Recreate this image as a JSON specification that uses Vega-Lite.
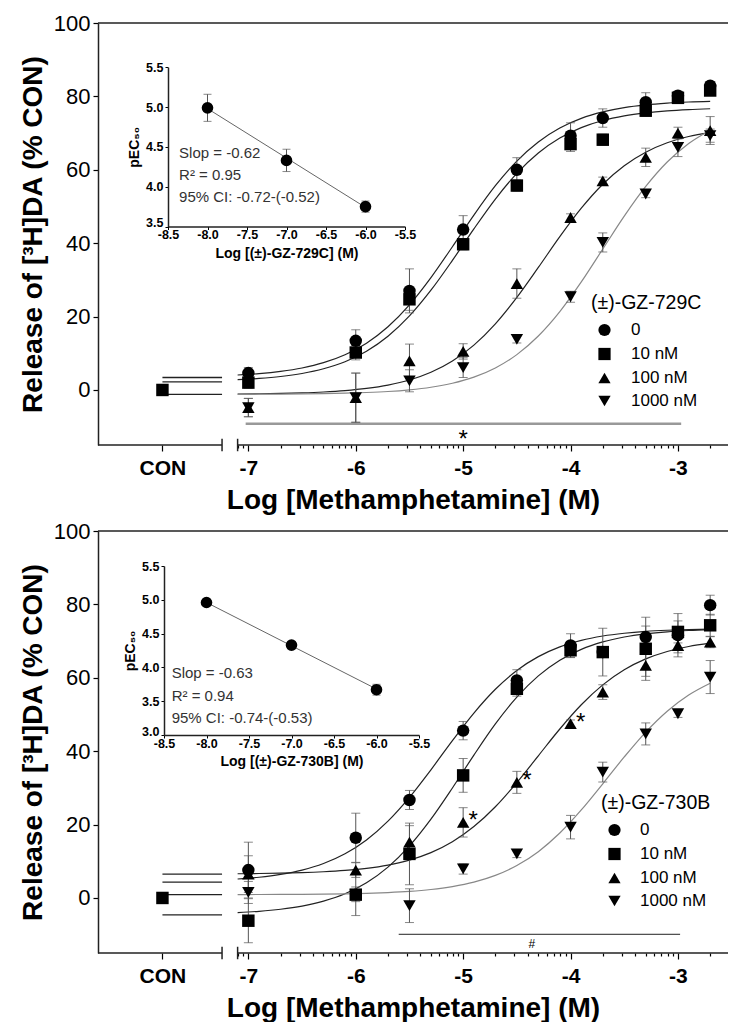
{
  "$schema": "https://vega.github.io/schema/vega-lite/v6.json",
  "background": "white",
  "padding": {"left": 19, "top": 12, "right": 0, "bottom": 0},
  "bounds": "flush",
  "spacing": 86,
  "datasets": {
    "axh": [{"x": -8.4, "xe": -7.245, "y": -15}, {"x": -7.1, "xe": -2.534, "y": -15}, {"x": -8.4, "xe": -2.534, "y": 100}],
    "brk": [{"x": -7.245, "y": -13.3, "ye": -16.7}, {"x": -7.1, "y": -13.3, "ye": -16.7}],
    "con1": [{"x": -7.8, "xe": -7.245, "y": 3.4}, {"x": -7.8, "xe": -7.245, "y": 2.2}, {"x": -7.8, "xe": -7.245, "y": -1.2}],
    "con2": [{"x": -7.8, "xe": -7.245, "y": 6.5}, {"x": -7.8, "xe": -7.245, "y": 4.3}, {"x": -7.8, "xe": -7.245, "y": 0.9}, {"x": -7.8, "xe": -7.245, "y": -4.6}],
    "sig1": [{"x": -7.025, "xe": -2.97, "y": -9.2}],
    "sig2": [{"x": -5.6, "xe": -2.98, "y": -9.9}],
    "t1": [{"x": -5, "y": -13.6, "t": "*"}],
    "t2": [{"x": -4.36, "y": -12.6, "t": "#"}],
    "ast2": [{"x": -5, "y": 20.6, "t": "*"}, {"x": -4.5, "y": 31.5, "t": "*"}, {"x": -4, "y": 47.5, "t": "*"}],
    "p1": [
      {"s": "0", "x": -7, "y": 4.6, "e": 1.5}, {"s": "0", "x": -6, "y": 13.4, "e": 3}, {"s": "0", "x": -5.5, "y": 27.0, "e": 6}, {"s": "0", "x": -5, "y": 43.7, "e": 3.8}, {"s": "0", "x": -4.5, "y": 60.0, "e": 3.3}, {"s": "0", "x": -4, "y": 69.3, "e": 3.5}, {"s": "0", "x": -3.7, "y": 74.1, "e": 2.5}, {"s": "0", "x": -3.3, "y": 78.4, "e": 2.6}, {"s": "0", "x": -3, "y": 80.2, "e": 1.2}, {"s": "0", "x": -2.7, "y": 82.9, "e": 1},
      {"s": "10 nM", "x": -7.8, "y": 0, "e": 0},
      {"s": "10 nM", "x": -7, "y": 2.0, "e": 1.5}, {"s": "10 nM", "x": -6, "y": 10.2, "e": 2}, {"s": "10 nM", "x": -5.5, "y": 24.7, "e": 3}, {"s": "10 nM", "x": -5, "y": 39.7, "e": 1.5}, {"s": "10 nM", "x": -4.5, "y": 55.7, "e": 1.5}, {"s": "10 nM", "x": -4, "y": 67.0, "e": 2}, {"s": "10 nM", "x": -3.7, "y": 68.2, "e": 1.5}, {"s": "10 nM", "x": -3.3, "y": 76.1, "e": 1.5}, {"s": "10 nM", "x": -3, "y": 79.6, "e": 1.2}, {"s": "10 nM", "x": -2.7, "y": 81.6, "e": 1},
      {"s": "100 nM", "x": -7, "y": -4.8, "e": 2.5}, {"s": "100 nM", "x": -6, "y": -2.1, "e": 6.7}, {"s": "100 nM", "x": -5.5, "y": 7.9, "e": 4.6}, {"s": "100 nM", "x": -5, "y": 10.5, "e": 2.1}, {"s": "100 nM", "x": -4.5, "y": 29.0, "e": 4}, {"s": "100 nM", "x": -4, "y": 47.0, "e": 1}, {"s": "100 nM", "x": -3.7, "y": 57.0, "e": 1}, {"s": "100 nM", "x": -3.3, "y": 63.4, "e": 2.5}, {"s": "100 nM", "x": -3, "y": 70.0, "e": 1.6}, {"s": "100 nM", "x": -2.7, "y": 70.7, "e": 3.8},
      {"s": "1000 nM", "x": -7, "y": -4.8, "e": 2.5}, {"s": "1000 nM", "x": -6, "y": -2.1, "e": 6.7}, {"s": "1000 nM", "x": -5.5, "y": 2.5, "e": 3}, {"s": "1000 nM", "x": -5, "y": 6.1, "e": 2.7}, {"s": "1000 nM", "x": -4.5, "y": 13.8, "e": 1}, {"s": "1000 nM", "x": -4, "y": 25.4, "e": 1.5}, {"s": "1000 nM", "x": -3.7, "y": 40.2, "e": 2.6}, {"s": "1000 nM", "x": -3.3, "y": 53.4, "e": 1}, {"s": "1000 nM", "x": -3, "y": 66.1, "e": 2.5}, {"s": "1000 nM", "x": -2.7, "y": 69.3, "e": 1.8}
    ],
    "p2": [
      {"s": "0", "x": -7, "y": 7.6, "e": 7.6}, {"s": "0", "x": -6, "y": 16.4, "e": 6.7}, {"s": "0", "x": -5.5, "y": 26.7, "e": 2.6}, {"s": "0", "x": -5, "y": 45.6, "e": 2.5}, {"s": "0", "x": -4.5, "y": 59.3, "e": 2.9}, {"s": "0", "x": -4, "y": 68.8, "e": 3.2}, {"s": "0", "x": -3.7, "y": 67.0, "e": 1}, {"s": "0", "x": -3.3, "y": 71.1, "e": 3}, {"s": "0", "x": -3, "y": 71.6, "e": 5.9}, {"s": "0", "x": -2.7, "y": 79.8, "e": 2.7},
      {"s": "10 nM", "x": -7.8, "y": 0, "e": 0},
      {"s": "10 nM", "x": -7, "y": -6.2, "e": 6}, {"s": "10 nM", "x": -6, "y": 0.9, "e": 5.7}, {"s": "10 nM", "x": -5.5, "y": 12.0, "e": 8.4}, {"s": "10 nM", "x": -5, "y": 33.4, "e": 4.6}, {"s": "10 nM", "x": -4.5, "y": 57.0, "e": 2}, {"s": "10 nM", "x": -4, "y": 67.5, "e": 2}, {"s": "10 nM", "x": -3.7, "y": 67.0, "e": 6.5}, {"s": "10 nM", "x": -3.3, "y": 67.9, "e": 8.6}, {"s": "10 nM", "x": -3, "y": 72.5, "e": 3}, {"s": "10 nM", "x": -2.7, "y": 74.3, "e": 3},
      {"s": "100 nM", "x": -7, "y": 6.5, "e": 5}, {"s": "100 nM", "x": -6, "y": 7.6, "e": 2}, {"s": "100 nM", "x": -5.5, "y": 15.2, "e": 4.5}, {"s": "100 nM", "x": -5, "y": 20.6, "e": 4}, {"s": "100 nM", "x": -4.5, "y": 31.5, "e": 3}, {"s": "100 nM", "x": -4, "y": 47.5, "e": 1}, {"s": "100 nM", "x": -3.7, "y": 56.1, "e": 2}, {"s": "100 nM", "x": -3.3, "y": 63.4, "e": 3}, {"s": "100 nM", "x": -3, "y": 68.8, "e": 2}, {"s": "100 nM", "x": -2.7, "y": 69.7, "e": 1.5},
      {"s": "1000 nM", "x": -7, "y": 1.5, "e": 3}, {"s": "1000 nM", "x": -6, "y": 1.0, "e": 2}, {"s": "1000 nM", "x": -5.5, "y": -2.1, "e": 4.6}, {"s": "1000 nM", "x": -5, "y": 7.9, "e": 1.4}, {"s": "1000 nM", "x": -4.5, "y": 12.0, "e": 1}, {"s": "1000 nM", "x": -4, "y": 19.3, "e": 3.2}, {"s": "1000 nM", "x": -3.7, "y": 34.3, "e": 2.7}, {"s": "1000 nM", "x": -3.3, "y": 44.7, "e": 3}, {"s": "1000 nM", "x": -3, "y": 50.2, "e": 1}, {"s": "1000 nM", "x": -2.7, "y": 60.2, "e": 4.5}
    ],
    "c1": [
      {"s":"0","x":-7.1,"y":4.07},{"s":"0","x":-6.9,"y":4.45},{"s":"0","x":-6.7,"y":5.06},{"s":"0","x":-6.5,"y":5.99},{"s":"0","x":-6.3,"y":7.43},{"s":"0","x":-6.1,"y":9.59},{"s":"0","x":-5.9,"y":12.76},{"s":"0","x":-5.7,"y":17.23},{"s":"0","x":-5.5,"y":23.2},{"s":"0","x":-5.3,"y":30.62},{"s":"0","x":-5.1,"y":39.03},{"s":"0","x":-4.9,"y":47.66},{"s":"0","x":-4.7,"y":55.65},{"s":"0","x":-4.5,"y":62.38},{"s":"0","x":-4.3,"y":67.58},{"s":"0","x":-4.1,"y":71.37},{"s":"0","x":-3.9,"y":74.0},{"s":"0","x":-3.7,"y":75.76},{"s":"0","x":-3.5,"y":76.93},{"s":"0","x":-3.3,"y":77.68},{"s":"0","x":-3.1,"y":78.16},{"s":"0","x":-2.9,"y":78.47},{"s":"0","x":-2.7,"y":78.66},
      {"s":"10 nM","x":-7.1,"y":2.79},{"s":"10 nM","x":-6.9,"y":3.13},{"s":"10 nM","x":-6.7,"y":3.66},{"s":"10 nM","x":-6.5,"y":4.49},{"s":"10 nM","x":-6.3,"y":5.77},{"s":"10 nM","x":-6.1,"y":7.7},{"s":"10 nM","x":-5.9,"y":10.56},{"s":"10 nM","x":-5.7,"y":14.64},{"s":"10 nM","x":-5.5,"y":20.17},{"s":"10 nM","x":-5.3,"y":27.18},{"s":"10 nM","x":-5.1,"y":35.31},{"s":"10 nM","x":-4.9,"y":43.89},{"s":"10 nM","x":-4.7,"y":52.02},{"s":"10 nM","x":-4.5,"y":59.03},{"s":"10 nM","x":-4.3,"y":64.56},{"s":"10 nM","x":-4.1,"y":68.64},{"s":"10 nM","x":-3.9,"y":71.49},{"s":"10 nM","x":-3.7,"y":73.43},{"s":"10 nM","x":-3.5,"y":74.71},{"s":"10 nM","x":-3.3,"y":75.53},{"s":"10 nM","x":-3.1,"y":76.07},{"s":"10 nM","x":-2.9,"y":76.41},{"s":"10 nM","x":-2.7,"y":76.63},
      {"s":"100 nM","x":-7.1,"y":-1.1},{"s":"100 nM","x":-6.9,"y":-1.04},{"s":"100 nM","x":-6.7,"y":-0.94},{"s":"100 nM","x":-6.5,"y":-0.79},{"s":"100 nM","x":-6.3,"y":-0.55},{"s":"100 nM","x":-6.1,"y":-0.18},{"s":"100 nM","x":-5.9,"y":0.41},{"s":"100 nM","x":-5.7,"y":1.32},{"s":"100 nM","x":-5.5,"y":2.71},{"s":"100 nM","x":-5.3,"y":4.81},{"s":"100 nM","x":-5.1,"y":7.89},{"s":"100 nM","x":-4.9,"y":12.22},{"s":"100 nM","x":-4.7,"y":18.02},{"s":"100 nM","x":-4.5,"y":25.22},{"s":"100 nM","x":-4.3,"y":33.39},{"s":"100 nM","x":-4.1,"y":41.78},{"s":"100 nM","x":-3.9,"y":49.53},{"s":"100 nM","x":-3.7,"y":56.06},{"s":"100 nM","x":-3.5,"y":61.12},{"s":"100 nM","x":-3.3,"y":64.79},{"s":"100 nM","x":-3.1,"y":67.35},{"s":"100 nM","x":-2.9,"y":69.06},{"s":"100 nM","x":-2.7,"y":70.19},
      {"s":"1000 nM","x":-7.1,"y":-1.17},{"s":"1000 nM","x":-6.9,"y":-1.15},{"s":"1000 nM","x":-6.7,"y":-1.12},{"s":"1000 nM","x":-6.5,"y":-1.07},{"s":"1000 nM","x":-6.3,"y":-1.0},{"s":"1000 nM","x":-6.1,"y":-0.89},{"s":"1000 nM","x":-5.9,"y":-0.7},{"s":"1000 nM","x":-5.7,"y":-0.42},{"s":"1000 nM","x":-5.5,"y":0.04},{"s":"1000 nM","x":-5.3,"y":0.74},{"s":"1000 nM","x":-5.1,"y":1.83},{"s":"1000 nM","x":-4.9,"y":3.5},{"s":"1000 nM","x":-4.7,"y":6.0},{"s":"1000 nM","x":-4.5,"y":9.63},{"s":"1000 nM","x":-4.3,"y":14.7},{"s":"1000 nM","x":-4.1,"y":21.35},{"s":"1000 nM","x":-3.9,"y":29.44},{"s":"1000 nM","x":-3.7,"y":38.4},{"s":"1000 nM","x":-3.5,"y":47.36},{"s":"1000 nM","x":-3.3,"y":55.45},{"s":"1000 nM","x":-3.1,"y":62.11},{"s":"1000 nM","x":-2.9,"y":67.17},{"s":"1000 nM","x":-2.7,"y":70.8}
    ],
    "c2": [
      {"s":"0","x":-7.1,"y":5.16},{"s":"0","x":-6.9,"y":5.65},{"s":"0","x":-6.7,"y":6.42},{"s":"0","x":-6.5,"y":7.6},{"s":"0","x":-6.3,"y":9.39},{"s":"0","x":-6.1,"y":12.04},{"s":"0","x":-5.9,"y":15.81},{"s":"0","x":-5.7,"y":20.93},{"s":"0","x":-5.5,"y":27.41},{"s":"0","x":-5.3,"y":34.93},{"s":"0","x":-5.1,"y":42.87},{"s":"0","x":-4.9,"y":50.39},{"s":"0","x":-4.7,"y":56.87},{"s":"0","x":-4.5,"y":61.99},{"s":"0","x":-4.3,"y":65.76},{"s":"0","x":-4.1,"y":68.41},{"s":"0","x":-3.9,"y":70.2},{"s":"0","x":-3.7,"y":71.38},{"s":"0","x":-3.5,"y":72.14},{"s":"0","x":-3.3,"y":72.64},{"s":"0","x":-3.1,"y":72.95},{"s":"0","x":-2.9,"y":73.15},{"s":"0","x":-2.7,"y":73.28},
      {"s":"10 nM","x":-7.1,"y":-3.98},{"s":"10 nM","x":-6.9,"y":-3.63},{"s":"10 nM","x":-6.7,"y":-3.07},{"s":"10 nM","x":-6.5,"y":-2.21},{"s":"10 nM","x":-6.3,"y":-0.87},{"s":"10 nM","x":-6.1,"y":1.15},{"s":"10 nM","x":-5.9,"y":4.13},{"s":"10 nM","x":-5.7,"y":8.39},{"s":"10 nM","x":-5.5,"y":14.17},{"s":"10 nM","x":-5.3,"y":21.48},{"s":"10 nM","x":-5.1,"y":29.97},{"s":"10 nM","x":-4.9,"y":38.93},{"s":"10 nM","x":-4.7,"y":47.42},{"s":"10 nM","x":-4.5,"y":54.73},{"s":"10 nM","x":-4.3,"y":60.51},{"s":"10 nM","x":-4.1,"y":64.77},{"s":"10 nM","x":-3.9,"y":67.75},{"s":"10 nM","x":-3.7,"y":69.77},{"s":"10 nM","x":-3.5,"y":71.11},{"s":"10 nM","x":-3.3,"y":71.97},{"s":"10 nM","x":-3.1,"y":72.53},{"s":"10 nM","x":-2.9,"y":72.88},{"s":"10 nM","x":-2.7,"y":73.11},
      {"s":"100 nM","x":-7.1,"y":6.6},{"s":"100 nM","x":-6.9,"y":6.66},{"s":"100 nM","x":-6.7,"y":6.76},{"s":"100 nM","x":-6.5,"y":6.9},{"s":"100 nM","x":-6.3,"y":7.14},{"s":"100 nM","x":-6.1,"y":7.51},{"s":"100 nM","x":-5.9,"y":8.08},{"s":"100 nM","x":-5.7,"y":8.97},{"s":"100 nM","x":-5.5,"y":10.33},{"s":"100 nM","x":-5.3,"y":12.36},{"s":"100 nM","x":-5.1,"y":15.32},{"s":"100 nM","x":-4.9,"y":19.45},{"s":"100 nM","x":-4.7,"y":24.86},{"s":"100 nM","x":-4.5,"y":31.46},{"s":"100 nM","x":-4.3,"y":38.75},{"s":"100 nM","x":-4.1,"y":46.04},{"s":"100 nM","x":-3.9,"y":52.64},{"s":"100 nM","x":-3.7,"y":58.06},{"s":"100 nM","x":-3.5,"y":62.18},{"s":"100 nM","x":-3.3,"y":65.14},{"s":"100 nM","x":-3.1,"y":67.17},{"s":"100 nM","x":-2.9,"y":68.53},{"s":"100 nM","x":-2.7,"y":69.42},
      {"s":"1000 nM","x":-7.1,"y":0.92},{"s":"1000 nM","x":-6.9,"y":0.94},{"s":"1000 nM","x":-6.7,"y":0.96},{"s":"1000 nM","x":-6.5,"y":0.99},{"s":"1000 nM","x":-6.3,"y":1.04},{"s":"1000 nM","x":-6.1,"y":1.13},{"s":"1000 nM","x":-5.9,"y":1.26},{"s":"1000 nM","x":-5.7,"y":1.47},{"s":"1000 nM","x":-5.5,"y":1.79},{"s":"1000 nM","x":-5.3,"y":2.3},{"s":"1000 nM","x":-5.1,"y":3.1},{"s":"1000 nM","x":-4.9,"y":4.31},{"s":"1000 nM","x":-4.7,"y":6.15},{"s":"1000 nM","x":-4.5,"y":8.84},{"s":"1000 nM","x":-4.3,"y":12.62},{"s":"1000 nM","x":-4.1,"y":17.69},{"s":"1000 nM","x":-3.9,"y":23.98},{"s":"1000 nM","x":-3.7,"y":31.11},{"s":"1000 nM","x":-3.5,"y":38.43},{"s":"1000 nM","x":-3.3,"y":45.21},{"s":"1000 nM","x":-3.1,"y":50.9},{"s":"1000 nM","x":-2.9,"y":55.32},{"s":"1000 nM","x":-2.7,"y":58.53}
    ],
    "ip1": [{"x": -8, "y": 4.99, "e": 0.17}, {"x": -7, "y": 4.33, "e": 0.14}, {"x": -6, "y": 3.75, "e": 0.07}],
    "il1": [{"x": -8, "y": 4.98}, {"x": -6, "y": 3.74}],
    "it1": [{"x": -8.36, "y": 4.425, "t": "Slop = -0.62"}, {"x": -8.36, "y": 4.15, "t": "R² = 0.95"}, {"x": -8.36, "y": 3.875, "t": "95% CI: -0.72-(-0.52)"}],
    "ip2": [{"x": -8, "y": 4.96, "e": 0.03}, {"x": -7, "y": 4.33, "e": 0.03}, {"x": -6, "y": 3.67, "e": 0.08}],
    "il2": [{"x": -8, "y": 4.96}, {"x": -6, "y": 3.68}],
    "it2": [{"x": -8.41, "y": 3.91, "t": "Slop = -0.63"}, {"x": -8.41, "y": 3.57, "t": "R² = 0.94"}, {"x": -8.41, "y": 3.25, "t": "95% CI: -0.74-(-0.53)"}]
  },
  "vconcat": [
    {
      "width": 630, "height": 422,
      "resolve": {"scale": {"x": "independent", "y": "independent"}, "axis": {"x": "independent", "y": "independent"}},
      "layer": [
        {
          "encoding": {
            "x": {"field": "x", "type": "quantitative", "scale": {"domain": [-8.4, -2.534], "nice": false, "zero": false},
              "axis": {"values": [-7.8,-7.097,-7.046,-7,-6.699,-6.523,-6.398,-6.301,-6.222,-6.155,-6.097,-6.046,-6,-5.699,-5.523,-5.398,-5.301,-5.222,-5.155,-5.097,-5.046,-5,-4.699,-4.523,-4.398,-4.301,-4.222,-4.155,-4.097,-4.046,-4,-3.699,-3.523,-3.398,-3.301,-3.222,-3.155,-3.097,-3.046,-3,-2.699],
                "domain": false, "tickWidth": 1.2,
                "tickSize": {"condition": {"test": "indexof([-7.8,-7,-6,-5,-4,-3], datum.value) >= 0", "value": 6}, "value": 3},
                "labelExpr": "datum.value == -7.8 ? 'CON' : (indexof([-7,-6,-5,-4,-3], datum.value) >= 0 ? '-' + abs(datum.value) : '')",
                "labelFontSize": 21, "labelFontWeight": "bold", "labelPadding": 6, "labelOverlap": false, "labelFlush": false,
                "title": "Log [Methamphetamine] (M)", "titleFontSize": 28, "titleFontWeight": "bold", "titlePadding": 8}},
            "y": {"field": "y", "type": "quantitative", "scale": {"domain": [-15, 100], "nice": false, "zero": false},
              "axis": {"values": [0, 20, 40, 60, 80, 100], "tickSize": 5, "tickWidth": 1.2, "domainWidth": 1.5, "labelFontSize": 22, "labelPadding": 3,
                "title": "Release of [³H]DA (% CON)", "titleFontSize": 28, "titleFontWeight": "bold", "titlePadding": 6}}
          },
          "layer": [
            {"data": {"name": "axh"}, "mark": {"type": "rule", "color": "#222", "strokeWidth": 1.5}, "encoding": {"x2": {"field": "xe"}}},
            {"data": {"name": "brk"}, "mark": {"type": "rule", "color": "#222", "strokeWidth": 1.5}, "encoding": {"y2": {"field": "ye"}}},
            {"data": {"name": "con1"}, "mark": {"type": "rule", "color": "#222", "strokeWidth": 1.3}, "encoding": {"x2": {"field": "xe"}}},
            {"data": {"name": "sig1"}, "mark": {"type": "rule", "color": "#999", "strokeWidth": 2.5}, "encoding": {"x2": {"field": "xe"}}},
            {"data": {"name": "c1"}, "mark": {"type": "line", "interpolate": "monotone", "strokeWidth": 1.2},
              "encoding": {"detail": {"field": "s"}, "color": {"condition": {"test": "datum.s == '1000 nM'", "value": "#888"}, "value": "#222"}}},
            {"data": {"name": "p1"}, "mark": {"type": "errorbar", "ticks": {"size": 9, "color": "#555"}, "color": "#555"}, "encoding": {"yError": {"field": "e"}}},
            {"data": {"name": "p1"}, "mark": {"type": "point", "filled": true, "size": 155, "opacity": 1, "color": "black"},
              "encoding": {"shape": {"field": "s", "type": "nominal", "scale": {"domain": ["0", "10 nM", "100 nM", "1000 nM"], "range": ["circle", "square", "triangle-up", "triangle-down"]},
                "legend": {"title": "(±)-GZ-729C", "orient": "none", "legendX": 493, "legendY": 271, "padding": 0, "titleFontSize": 19.5, "titleFontWeight": "normal", "titlePadding": 8, "titleAnchor": "start", "titleAlign": "left",
                  "labelFontSize": 17, "symbolSize": 150, "symbolFillColor": "black", "symbolStrokeColor": "black", "symbolOpacity": 1, "symbolOffset": 5, "labelOffset": 18, "rowPadding": 5,
                  "labelExpr": "datum.label == '0' ? '  0' : datum.label"}}}},
            {"data": {"name": "t1"}, "mark": {"type": "text", "fontSize": 24, "baseline": "middle", "color": "black"}, "encoding": {"text": {"field": "t"}}}
          ]
        },
        {
          "encoding": {
            "x": {"field": "x", "type": "quantitative", "scale": {"domain": [-8.5, -5.5], "range": [70, 307], "nice": false, "zero": false},
              "axis": {"orient": "bottom", "offset": -218.5, "values": [-8.5, -8, -7.5, -7, -6.5, -6, -5.5], "labelExpr": "'-' + format(abs(datum.value), '.1f')",
                "domainWidth": 1.5, "tickSize": 3, "labelFontSize": 12.5, "labelFontWeight": "bold", "labelPadding": -1, "labelFlush": false, "labelOverlap": false,
                "title": "Log [(±)-GZ-729C] (M)", "titleFontSize": 14, "titleFontWeight": "bold", "titlePadding": 5}},
            "y": {"field": "y", "type": "quantitative", "scale": {"domain": [3.5, 5.5], "range": [203.5, 44.2], "nice": false, "zero": false},
              "axis": {"orient": "left", "offset": -70, "values": [3.5, 4, 4.5, 5, 5.5], "format": ".1f",
                "domainWidth": 1.5, "tickSize": 3, "labelFontSize": 12.5, "labelFontWeight": "bold", "labelPadding": 2, "labelFlush": false, "labelOverlap": false,
                "labelOffset": {"condition": {"test": "datum.value == 3.5", "value": -4}, "value": 0},
                "title": "pEC₅₀", "titleFontSize": 14, "titleFontWeight": "bold", "titlePadding": 4}}
          },
          "layer": [
            {"data": {"name": "il1"}, "mark": {"type": "line", "color": "#666", "strokeWidth": 1}},
            {"data": {"name": "ip1"}, "mark": {"type": "errorbar", "ticks": {"size": 8, "color": "#555"}, "color": "#555"}, "encoding": {"yError": {"field": "e"}}},
            {"data": {"name": "ip1"}, "mark": {"type": "point", "filled": true, "size": 135, "opacity": 1, "color": "black", "shape": "circle"}},
            {"data": {"name": "it1"}, "mark": {"type": "text", "align": "left", "baseline": "middle", "fontSize": 15, "color": "#333"}, "encoding": {"text": {"field": "t"}}}
          ]
        }
      ]
    },
    {
      "width": 630, "height": 422,
      "resolve": {"scale": {"x": "independent", "y": "independent"}, "axis": {"x": "independent", "y": "independent"}},
      "layer": [
        {
          "encoding": {
            "x": {"field": "x", "type": "quantitative", "scale": {"domain": [-8.4, -2.534], "nice": false, "zero": false},
              "axis": {"values": [-7.8,-7.097,-7.046,-7,-6.699,-6.523,-6.398,-6.301,-6.222,-6.155,-6.097,-6.046,-6,-5.699,-5.523,-5.398,-5.301,-5.222,-5.155,-5.097,-5.046,-5,-4.699,-4.523,-4.398,-4.301,-4.222,-4.155,-4.097,-4.046,-4,-3.699,-3.523,-3.398,-3.301,-3.222,-3.155,-3.097,-3.046,-3,-2.699],
                "domain": false, "tickWidth": 1.2,
                "tickSize": {"condition": {"test": "indexof([-7.8,-7,-6,-5,-4,-3], datum.value) >= 0", "value": 6}, "value": 3},
                "labelExpr": "datum.value == -7.8 ? 'CON' : (indexof([-7,-6,-5,-4,-3], datum.value) >= 0 ? '-' + abs(datum.value) : '')",
                "labelFontSize": 21, "labelFontWeight": "bold", "labelPadding": 6, "labelOverlap": false, "labelFlush": false,
                "title": "Log [Methamphetamine] (M)", "titleFontSize": 28, "titleFontWeight": "bold", "titlePadding": 8}},
            "y": {"field": "y", "type": "quantitative", "scale": {"domain": [-15, 100], "nice": false, "zero": false},
              "axis": {"values": [0, 20, 40, 60, 80, 100], "tickSize": 5, "tickWidth": 1.2, "domainWidth": 1.5, "labelFontSize": 22, "labelPadding": 3,
                "title": "Release of [³H]DA (% CON)", "titleFontSize": 28, "titleFontWeight": "bold", "titlePadding": 6}}
          },
          "layer": [
            {"data": {"name": "axh"}, "mark": {"type": "rule", "color": "#222", "strokeWidth": 1.5}, "encoding": {"x2": {"field": "xe"}}},
            {"data": {"name": "brk"}, "mark": {"type": "rule", "color": "#222", "strokeWidth": 1.5}, "encoding": {"y2": {"field": "ye"}}},
            {"data": {"name": "con2"}, "mark": {"type": "rule", "color": "#222", "strokeWidth": 1.3}, "encoding": {"x2": {"field": "xe"}}},
            {"data": {"name": "sig2"}, "mark": {"type": "rule", "color": "#222", "strokeWidth": 1}, "encoding": {"x2": {"field": "xe"}}},
            {"data": {"name": "c2"}, "mark": {"type": "line", "interpolate": "monotone", "strokeWidth": 1.2},
              "encoding": {"detail": {"field": "s"}, "color": {"condition": {"test": "datum.s == '1000 nM'", "value": "#888"}, "value": "#222"}}},
            {"data": {"name": "p2"}, "mark": {"type": "errorbar", "ticks": {"size": 9, "color": "#555"}, "color": "#555"}, "encoding": {"yError": {"field": "e"}}},
            {"data": {"name": "p2"}, "mark": {"type": "point", "filled": true, "size": 155, "opacity": 1, "color": "black"},
              "encoding": {"shape": {"field": "s", "type": "nominal", "scale": {"domain": ["0", "10 nM", "100 nM", "1000 nM"], "range": ["circle", "square", "triangle-up", "triangle-down"]},
                "legend": {"title": "(±)-GZ-730B", "orient": "none", "legendX": 503, "legendY": 263, "padding": 0, "titleFontSize": 19.5, "titleFontWeight": "normal", "titlePadding": 8, "titleAnchor": "start", "titleAlign": "left",
                  "labelFontSize": 17, "symbolSize": 150, "symbolFillColor": "black", "symbolStrokeColor": "black", "symbolOpacity": 1, "symbolOffset": 5, "labelOffset": 17, "rowPadding": 5,
                  "labelExpr": "datum.label == '0' ? '  0' : datum.label"}}}},
            {"data": {"name": "t2"}, "mark": {"type": "text", "fontSize": 12, "baseline": "middle", "color": "black"}, "encoding": {"text": {"field": "t"}}},
            {"data": {"name": "ast2"}, "mark": {"type": "text", "fontSize": 24, "baseline": "middle", "align": "center", "dx": 10, "dy": -1, "color": "black"}, "encoding": {"text": {"field": "t"}}}
          ]
        },
        {
          "encoding": {
            "x": {"field": "x", "type": "quantitative", "scale": {"domain": [-8.5, -5.5], "range": [66, 321], "nice": false, "zero": false},
              "axis": {"orient": "bottom", "offset": -218, "values": [-8.5, -8, -7.5, -7, -6.5, -6, -5.5], "labelExpr": "'-' + format(abs(datum.value), '.1f')",
                "domainWidth": 1.5, "tickSize": 3, "labelFontSize": 12.5, "labelFontWeight": "bold", "labelPadding": -1, "labelFlush": false, "labelOverlap": false,
                "title": "Log [(±)-GZ-730B] (M)", "titleFontSize": 14, "titleFontWeight": "bold", "titlePadding": 5}},
            "y": {"field": "y", "type": "quantitative", "scale": {"domain": [3.0, 5.5], "range": [204, 35], "nice": false, "zero": false},
              "axis": {"orient": "left", "offset": -66, "values": [3, 3.5, 4, 4.5, 5, 5.5], "format": ".1f",
                "domainWidth": 1.5, "tickSize": 3, "labelFontSize": 12.5, "labelFontWeight": "bold", "labelPadding": 2, "labelFlush": false, "labelOverlap": false,
                "labelOffset": {"condition": {"test": "datum.value == 3", "value": -4}, "value": 0},
                "title": "pEC₅₀", "titleFontSize": 14, "titleFontWeight": "bold", "titlePadding": 4}}
          },
          "layer": [
            {"data": {"name": "il2"}, "mark": {"type": "line", "color": "#666", "strokeWidth": 1}},
            {"data": {"name": "ip2"}, "mark": {"type": "errorbar", "ticks": {"size": 8, "color": "#555"}, "color": "#555"}, "encoding": {"yError": {"field": "e"}}},
            {"data": {"name": "ip2"}, "mark": {"type": "point", "filled": true, "size": 135, "opacity": 1, "color": "black", "shape": "circle"}},
            {"data": {"name": "it2"}, "mark": {"type": "text", "align": "left", "baseline": "middle", "fontSize": 15, "color": "#333"}, "encoding": {"text": {"field": "t"}}}
          ]
        }
      ]
    }
  ],
  "resolve": {"scale": {"x": "independent", "y": "independent", "shape": "independent"}, "axis": {"x": "independent", "y": "independent"}, "legend": {"shape": "independent"}},
  "config": {
    "font": "Liberation Sans",
    "view": {"stroke": null},
    "axis": {"grid": false, "labelColor": "black", "titleColor": "black", "tickColor": "black", "domainColor": "#222"}
  }
}
